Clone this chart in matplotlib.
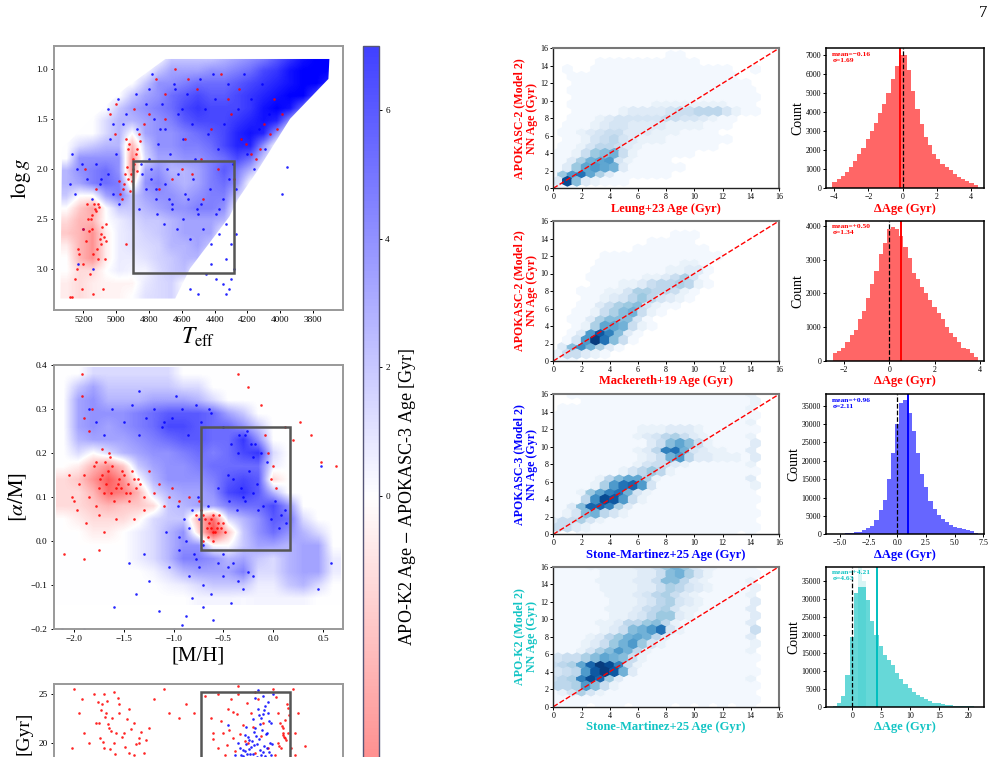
import numpy as np
from matplotlib import pyplot as plt
from matplotlib.cm import ScalarMappable
from matplotlib.colors import Normalize
from matplotlib.patches import Polygon, Rectangle

plt.rcParams['font.family'] = ['Liberation Serif', 'DejaVu Serif']
plt.rcParams['mathtext.fontset'] = 'stix'

N = 0
W, H = 998, 757

# Kiel diagram: mean age offset per cell, 0 where nothing is there
teff_cols = [5300, 5220, 5140, 5060, 4980, 4900, 4820, 4740, 4660, 4580, 4500,
             4420, 4340, 4260, 4180, 4100, 4020, 3940, 3860, 3780, 3700]
logg_rows = [0.9, 1.025, 1.15, 1.275, 1.4, 1.525, 1.65, 1.775, 1.9, 2.025, 2.15,
             2.275, 2.4, 2.525, 2.65, 2.775, 2.9, 3.025, 3.15, 3.275]
kiel_cells = [
    [N, N, N, N, N, N, N, N, 1.5, 1.5, 1.5, 1.5, 2, 2.5, 3, 3.5, 4.5, 5.5, 6.5, 7, 7],
    [N, N, N, N, N, N, N, 1.5, 2.5, 2.5, 2.5, 3, 3, 3.5, 4, 5, 5.5, 6.5, 7, 7, 7],
    [N, N, N, N, N, N, 1.5, 3, 3, 3.5, 4, 4, 4, 4.5, 5, 5.5, 6, 6.5, 7, 7, 6],
    [N, N, N, N, N, 1.5, 2.5, 3, 4, 4.5, 5, 4.5, 4.5, 5, 5.5, 6, 6.5, 7, 7, 5, N],
    [N, N, N, N, 1.5, 2.5, 3, 3.5, 4, 5, 5.5, 5, 5, 5, 5.5, 6.5, 7, 6.5, 4, N, N],
    [N, N, N, 1, 2, 2, 2.5, 3, 3.5, 4.5, 5, 5, 5, 5.5, 6, 6.5, 6, 3, N, N, N],
    [N, N, N, 1, 2, 0, 2.5, 3, 3, 3.5, 4, 4.5, 5, 6, 6.5, 6, 3, N, N, N, N],
    [N, 1, 1.5, 2, 2, -2, 1.5, 3, 3, 3.5, 3.5, 4, 5, 6, 6, 3, N, N, N, N, N],
    [N, 3, 3, 3, 3, -3, 1, 2.5, 2.5, 3, 3, 3.5, 4, 5, 4, 1.5, N, N, N, N, N],
    [2, 3, 3.5, 4, 3, -3, 2.5, 3, 2, 2, 2.5, 3.5, 4.5, 3.5, 2, N, N, N, N, N, N],
    [2, 2.5, 3.5, 4, 3.5, -1, 3, 3.5, 2.5, 2, 2.5, 3.5, 4, 3, N, N, N, N, N, N, N],
    [1.5, 0, 0, 2.5, 3.5, 1.5, 2.5, 3, 3, 2.5, 3, 3.5, 3.5, 1.5, N, N, N, N, N, N, N],
    [0, -1.5, -2.5, 0, 1.5, 1.5, 2, 2.5, 3, 3, 3.5, 3.5, 3, N, N, N, N, N, N, N, N],
    [-1, -2, -2, 0, 0.5, 1, 1.5, 1.5, 2, 2.5, 2.5, 2.5, 2, N, N, N, N, N, N, N, N],
    [-1.5, -2, -3, -0.5, 0.5, 0.8, 1.2, 1.5, 2, 2.5, 2.5, 2.5, N, N, N, N, N, N, N, N, N],
    [-0.5, -2, -3, -0.5, 0.5, 0.8, 1, 1.2, 2, 2, 2.5, 1.5, N, N, N, N, N, N, N, N, N],
    [0, -2, -3, -0.5, 0.5, 0.5, 0.8, 1.2, 1.5, 2, 2, N, N, N, N, N, N, N, N, N, N],
    [0, -1, -1, 0, 0.5, 0.3, 0.3, 1, 1.5, 1.8, N, N, N, N, N, N, N, N, N, N, N],
    [-0.5, -1, -0.5, -0.3, -0.3, -0.3, 0.6, 1, 1.2, N, N, N, N, N, N, N, N, N, N, N, N],
    [-0.5, -1, -0.5, -0.3, -0.3, 0, 0.8, 1, 1.2, N, N, N, N, N, N, N, N, N, N, N, N],
]
kiel_edge_teff = [4700, 4950, 5150, 5330, 5340, 4640, 4550, 4310, 4256, 4143, 3940, 3706, 3700]
kiel_edge_logg = [0.9, 1.2, 1.5, 1.8, 3.3, 3.3, 3.0, 2.48, 2.3, 2.03, 1.5, 1.1, 0.9]

kiel_red_teff = [4900, 4930, 4950, 4880, 4920, 4960, 4890, 4940, 4860, 4975, 4910, 4870, 5130, 5150, 5100, 5170,
                 5090, 5140, 5200, 5230, 5110, 5180, 5060, 5120, 5160, 5250, 5080, 5140, 5210, 5270, 5110, 5060,
                 4700, 4560, 4420, 4320, 4210, 4100, 4060, 3990, 4510, 4640, 4760, 4280, 4180, 4600, 4470, 4800,
                 5000, 4830, 4890, 4700, 4580, 4360, 4250, 4150, 4020, 4040, 5280, 5240, 5190, 5040, 5005, 4940,
                 4895, 4925, 4945, 4905, 4935, 4875, 4855, 4915, 4965, 4985, 5105, 5125, 5145, 5085, 5075, 5165,
                 5095, 5115, 5185, 5205, 5135, 5155, 5070, 5225, 4740, 4660, 4540, 4480, 4380, 4300, 4240, 4120]
kiel_red_logg = [2.0, 2.1, 2.15, 1.85, 1.75, 2.2, 1.95, 1.7, 1.65, 2.25, 2.05, 1.8, 2.4, 2.6, 2.7, 2.5,
                 2.65, 2.85, 2.95, 2.8, 2.9, 2.35, 2.55, 2.2, 3.05, 3.1, 3.2, 3.25, 3.2, 3.28, 2.35, 2.72,
                 1.5, 1.1, 1.6, 1.3, 1.75, 1.55, 1.65, 1.45, 1.2, 1.0, 1.1, 2.1, 1.85, 2.0, 2.3, 1.45,
                 1.35, 1.55, 1.4, 1.25, 1.7, 1.05, 1.2, 1.9, 1.6, 1.3, 3.28, 3.0, 2.0, 1.45, 1.65, 2.75,
                 1.9, 1.8, 2.05, 2.12, 1.98, 2.02, 1.72, 2.22, 2.3, 2.12, 2.38, 2.42, 2.46, 2.58, 2.68, 2.62,
                 2.75, 2.8, 2.72, 2.6, 2.35, 2.5, 2.9, 2.85, 2.2, 2.1, 2.05, 1.9, 2.0, 1.45, 1.7, 1.8]
kiel_blue_teff = [5270, 5240, 5210, 5180, 5280, 5250, 5150, 5120, 5230, 5090, 5040, 4990, 4960, 4880, 4820, 4780,
                  4730, 4690, 4640, 4600, 4510, 4370, 4300, 4330, 4270, 4450, 4390, 4350, 4310, 4280, 4420, 4500,
                  4550, 3960, 3990, 4330, 4300, 5050, 4940, 4870, 4790, 5020, 4860, 4760, 4660, 4560, 5200, 5140,
                  4800, 4770, 4745, 4720, 4700, 4670, 4650, 4620, 4590, 4570, 4540, 4520, 4490, 4460, 4440, 4410,
                  4400, 4380, 4340, 4320, 4290, 4260, 4240, 4220, 4200, 4180, 4160, 4130, 4110, 4090, 4070, 4840,
                  4820, 4790, 4760, 4700, 4660, 4620, 4580, 4530, 4480, 4430, 4390, 4350, 4310, 4270, 4850, 4800,
                  4750, 4710, 4680, 4630, 4590, 4550, 4500, 4470, 4420, 4370, 4330, 5000, 5050, 5100, 4980, 5020]
kiel_blue_logg = [1.85, 2.0, 1.95, 2.1, 2.15, 2.25, 2.3, 1.95, 2.95, 2.1, 1.7, 1.3, 1.55, 1.25, 1.35, 1.05,
                  1.6, 2.0, 1.2, 1.4, 2.4, 2.65, 2.75, 2.9, 2.65, 3.05, 3.1, 3.15, 3.2, 3.0, 2.95, 3.25,
                  3.2, 1.98, 2.25, 3.25, 3.1, 1.4, 1.45, 1.6, 2.1, 2.25, 2.4, 2.2, 2.35, 2.3, 2.6, 3.0,
                  1.2, 1.5, 1.75, 1.35, 1.6, 1.85, 1.15, 1.45, 1.7, 1.25, 1.55, 1.9, 1.1, 1.4, 1.65, 1.05,
                  1.3, 1.8, 1.55, 1.15, 1.95, 1.4, 1.7, 1.05, 1.85, 1.3, 2.0, 1.6, 1.15, 1.8, 1.45, 2.05,
                  2.2, 2.0, 2.3, 2.15, 2.4, 2.05, 2.25, 2.1, 2.35, 2.2, 2.45, 2.3, 2.1, 2.2, 1.95, 1.9,
                  2.45, 2.55, 2.3, 2.6, 2.5, 2.7, 2.45, 2.6, 2.75, 2.4, 2.55, 1.85, 2.05, 2.15, 2.35, 1.55]

# Chemical plane: mean age offset per cell
mh_cols = [-2.1, -1.95, -1.8, -1.65, -1.5, -1.35, -1.2, -1.05, -0.9, -0.75,
           -0.6, -0.45, -0.3, -0.15, 0, 0.15, 0.3, 0.45, 0.6]
am_rows = [0.38, 0.35, 0.32, 0.29, 0.26, 0.23, 0.20, 0.17, 0.14, 0.11, 0.08,
           0.05, 0.02, -0.01, -0.04, -0.07, -0.10, -0.13]
chem_cells = [
    [N, N, 1, 1, 1, 1, 1, 1, N, N, N, N, N, N, N, N, N, N, N],
    [N, 1.5, 2.5, 1.5, 1.5, 1.5, 1.5, 1.5, 1, 1, N, N, N, N, N, N, N, N, N],
    [N, 2.5, 3, 2, 2, 2, 2.5, 2.5, 2.5, 2, 1, N, N, N, N, N, N, N, N],
    [N, 2.5, 3, 3, 3, 3.5, 4, 4.5, 4.5, 4.5, 4, 2.5, 1.5, N, N, N, N, N, N],
    [N, 2.5, 3, 2.5, 3, 3.5, 4, 5, 5, 4.5, 4, 4, 3, 1.5, N, N, N, N, N],
    [N, 2, 2.5, 2.5, 2.5, 3, 3.5, 4, 4.5, 4.5, 4, 4, 5.5, 3, N, N, N, N, N],
    [N, 1, 0, 1, 2, 2.5, 3, 3, 3.5, 4, 3.5, 4, 5, 5.5, 1, N, N, N, N],
    [N, -0.5, -2, -3, -1.5, 1.5, 2.5, 3, 3, 3.5, 4, 4, 4, 4, 0.5, N, N, N, N],
    [-1, -1.5, -3, -4.5, -3, 0, 2, 3, 3, 3, 3.5, 4.5, 5, 4.5, -1, N, N, N, N],
    [-1, -1, -2, -4, -3.5, -2, 1, 2, 2.5, 2.5, 3, 5, 5.5, 4.5, 2, N, N, N, N],
    [-1, -1, -1.5, -2, -1.5, -1.5, -1, 1.5, 2, 2.5, 2.5, 3.5, 4, 4, 5, 3, N, N, N],
    [N, -0.5, -1, -1, -1, -0.3, 1, 1.5, 1.5, -2, -4, 1, 2, 3, 4.5, 4, 1, N, N],
    [N, N, -0.5, -0.5, N, 0.5, 1, 2, 3, -1, -5, -1.5, 1.5, 3, 4, 3, 2, 1, N],
    [N, N, N, N, 0, 0.5, 1, 2, 3, 3, 0, 0, 1.5, 2.5, 2.5, 2, 2.5, 2.5, N],
    [N, N, N, N, N, 0.5, 1, 2, 3.5, 3.5, 3, 2, 2.5, 1.5, 1, 2, 2.5, 2.5, 0.5],
    [N, N, N, N, N, N, 0.3, 1, 2, 2.5, 2.5, 2.5, 3.5, 1, 1, 2, 2.5, 2.5, 0.5],
    [N, N, N, N, N, N, N, 0.3, 0.5, 1, 1.5, 1.5, 1.5, 0.5, 0.5, 1.5, 2, 1, N],
    [N, N, N, N, N, N, N, N, N, 0.3, 0.3, 0.3, 0.2, 0.3, 0.3, 0.3, 0.3, N, N],
]
chem_red_mh = [-1.72, -1.68, -1.62, -1.55, -1.48, -1.42, -1.75, -1.6, -1.5, -1.38, -1.3, -1.25, -1.78, -1.65, -1.7, -1.45,
               -1.56, -1.2, -1.1, -1.02, -0.95, -1.85, -2.0, -1.95, -1.9, -1.75, -1.7, -1.58, -1.4, -1.3, -0.68, -0.62,
               -0.58, -0.55, -0.65, -0.6, -0.52, -0.72, -0.75, -0.7, -0.48, -0.6, -0.05, -0.02, 0.0, 0.03, -0.08, 0.27,
               0.38, 0.48, 0.63, -1.82, -1.92, -0.25, -0.35, -0.12, 0.12, 0.2, -2.1, -1.9, -1.75, -1.85, -1.9, -1.92,
               -1.74, -1.66, -1.58, -1.52, -1.46, -1.4, -1.34, -1.69, -1.63, -1.53, -1.44, -1.36, -2.05, -2.02, -1.97, -1.88,
               -1.8, -1.72, -1.64, -1.78, -0.64, -0.6, -0.56, -0.66, -0.7, -0.62, -0.5, -0.54, -0.78, -0.85, -1.15, -1.05]
chem_red_am = [0.15, 0.13, 0.17, 0.14, 0.11, 0.16, 0.12, 0.09, 0.15, 0.12, 0.1, 0.16, 0.18, 0.2, 0.11, 0.09,
               0.13, 0.11, 0.08, 0.12, 0.09, 0.1, 0.09, 0.13, 0.15, 0.06, 0.02, 0.05, 0.05, 0.07, 0.05, 0.03,
               0.02, 0.04, 0.01, 0.06, 0.03, 0.07, 0.09, 0.0, 0.02, 0.0, 0.2, 0.14, 0.17, 0.12, 0.24, 0.27,
               0.24, 0.18, 0.17, 0.3, 0.33, 0.35, 0.38, 0.31, 0.26, 0.23, -0.03, -0.04, -0.02, 0.25, 0.28, 0.38,
               0.14, 0.16, 0.12, 0.16, 0.13, 0.14, 0.13, 0.18, 0.11, 0.12, 0.11, 0.14, 0.15, 0.1, 0.07, 0.04,
               0.17, 0.21, 0.19, 0.08, 0.04, 0.02, 0.03, 0.03, 0.06, 0.05, 0.04, 0.06, 0.06, 0.1, 0.13, 0.1]
chem_blue_mh = [-1.05, -0.95, -0.85, -0.78, -0.7, -0.62, -0.55, -0.45, -0.35, -0.25, -0.3, -0.42, -0.5, -0.6, -0.7, -0.82,
                -0.88, -0.92, -1.0, -1.15, -1.25, -1.3, -1.38, -1.45, -1.6, -2.12, -1.9, -0.75, -0.65, -0.55, -0.45, -0.35,
                -0.28, -0.22, -0.2, -0.15, -0.3, -0.95, -0.85, -0.98, -0.78, -0.62, -1.1, -1.35, -0.2, 0.48, 0.58, 0.45,
                -1.85, -1.78, -1.7, -1.62, -1.5, -1.42, -1.35, -1.28, -1.2, -1.12, -1.02, -0.92, -0.86, -0.72, -0.64, -0.5,
                -0.42, -0.34, -0.26, -0.18, -0.12, -0.06, 0.02, 0.08, 0.13, -0.4, -0.32, -0.24, -0.16, -0.44, -0.36, -0.28,
                -0.2, -0.1, -0.02, 0.06, 0.12, -0.88, -0.8, -0.74, -0.7, -0.82, -0.76, -0.9, -0.96, -1.08, -0.5, -0.4]
chem_blue_am = [-0.06, -0.02, -0.08, -0.04, -0.1, -0.12, -0.05, -0.06, -0.09, -0.07, -0.11, -0.14, -0.03, -0.18, -0.15, -0.13,
                -0.17, -0.19, -0.2, -0.16, -0.09, -0.03, -0.12, -0.05, -0.15, -0.2, -0.2, 0.05, 0.08, 0.12, 0.15, 0.2,
                0.24, 0.22, 0.19, 0.07, 0.1, 0.01, 0.03, 0.33, 0.31, 0.29, 0.27, 0.34, -0.08, 0.17, -0.05, -0.11,
                0.3, 0.27, 0.24, 0.3, 0.27, 0.31, 0.24, 0.28, 0.3, 0.26, 0.28, 0.3, 0.24, 0.27, 0.3, 0.26,
                0.22, 0.24, 0.25, 0.22, 0.2, 0.18, 0.09, 0.06, 0.04, 0.14, 0.12, 0.16, 0.13, 0.09, 0.07, 0.09,
                0.11, 0.08, 0.05, 0.03, 0.07, 0.0, -0.03, -0.06, -0.01, 0.07, 0.1, 0.05, 0.08, 0.02, -0.08, -0.05]

# Third panel, age against metallicity
age_red_mh = [-2.0, -1.95, -1.9, -1.85, -2.02, -1.92, -1.78, -1.7, -1.72, -1.68, -1.65, -1.6, -1.74, -1.62, -1.7, -1.55,
              -1.5, -1.45, -1.4, -1.35, -1.3, -1.25, -1.6, -1.55, -1.45, -1.35, -1.2, -1.1, -1.05, -0.95, -0.88, -0.8,
              -1.8, -1.75, -1.67, -1.58, -1.4, -0.68, -0.62, -0.55, -0.5, -0.42, -0.35, -0.45, -0.4, -0.3, -0.22, -0.18,
              -0.15, -0.1, -0.05, 0.0, 0.05, 0.1, 0.14, 0.12, 0.08, 0.1, 0.05, 0.02, 0.2, 0.25, 0.22, 0.18, -0.25,
              -0.55, -0.48, -0.38, -0.28, -0.18, 0.15, 0.07, 0.13, 0.1, 0.16, -0.6, -0.35, 0.22, 0.32,
              -1.76, -1.73, -1.69, -1.66, -1.63, -1.71, -1.64, -1.59, -1.52, -1.47, -1.43, -1.38, -1.33, -1.28, -1.56, -1.49,
              -0.6, -0.52, -0.46, -0.4, -0.33, -0.26, -0.2, -0.12, -0.36, -0.44, 0.11, 0.09, 0.06, 0.12, 0.15, 0.03]
age_red_age = [25.5, 23, 21, 20, 19.5, 24.5, 22, 25, 24, 23, 21.5, 20, 20.5, 22.5, 19.5, 23, 21, 19, 22, 20.5, 19, 21.5, 25.2, 24, 23.5, 20, 24.5, 25.5, 23, 22.5, 24, 23,
               25, 22, 24.3, 21, 18.8, 24.8, 22.5, 25, 21, 24.5, 25, 23.5, 20.5, 21.8, 23, 25.2, 24.5, 22, 19.5, 25.5, 23, 21.5, 24, 20.5, 19.5, 21, 20, 18.8, 25.5, 23, 21, 19.5, 20,
               19.5, 18.8, 19.2, 20.2, 19, 21, 22, 20.3, 20.8, 22.8, 21, 25.8, 18.8, 19.7,
               24.2, 23.4, 22.6, 21.9, 21.2, 20.1, 19.4, 18.9, 20.6, 22.4, 21.4, 19.9, 21.1, 20.3, 24.6, 19.6,
               20.4, 22.2, 19.8, 23.1, 20.9, 24.1, 21.6, 20.7, 22.9, 21.3, 20.6, 21.7, 19.7, 22.3, 23.6, 24.7]
age_blue_mh = [-0.15, -0.1, -0.08, -0.05, -0.12, -0.02, -0.18, -0.06, -0.14, -0.03, -0.22, -0.28, -0.2, -0.12, -0.25, -0.3,
               -0.06, -0.16, -0.1, -0.02, -0.08, -0.2, -0.35, -0.28, -0.15, -0.05, -0.1, -0.18, 0.0, -0.45,
               -0.24, -0.19, -0.13, -0.09, -0.04, -0.26, -0.21, -0.17, -0.11, -0.07, -0.32, -0.27, -0.23, -0.16, -0.13, -0.38,
               -0.3, -0.24, -0.19, -0.14, -0.09, -0.04, -0.01, -0.33, -0.27]
age_blue_age = [25.4, 24.8, 23.8, 23, 22.5, 22, 21.5, 21, 20.4, 20, 19.6, 19.2, 18.9, 18.8, 20.6, 18.7,
                19.5, 19.9, 19.1, 18.8, 18.7, 22.4, 20, 20.8, 23.5, 24.2, 22.9, 24.6, 25, 21.8,
                19.4, 19.8, 19.3, 19.7, 19.1, 18.9, 20.2, 20.7, 21.3, 20.9, 18.8, 19.9, 18.9, 18.6, 21.9, 18.8,
                19.3, 20.3, 21.1, 22.8, 23.4, 22.2, 19.9, 19.5, 21.6]

# Box drawn on the two left panels plus the third one
kiel_box = [4900, 4280, 1.92, 3.04]
chem_box = [-0.72, 0.17, -0.02, 0.26]
age_box = [-0.72, 0.17, -2.0, 25.2]

# Hexagon intensity, top row first (y = 16, 15.2, ... 0), x step 2/3, odd rows shifted
leung_hex = [
    [0],
    [0, 0, 0, 0, 0, 0, 0, 0, 0, 0, 0, 0, 1, 1],
    [0, 0, 0, 0, 0, 1, 1, 1, 1, 1, 1, 1, 1, 1, 1, 1],
    [0, 1, 0, 0, 1, 1, 1, 1, 1, 1, 1, 1, 1, 1, 1, 1, 1, 1, 1, 0, 0, 1],
    [0, 0, 1, 1, 1, 1, 1, 1, 1, 1, 1, 1, 1, 1, 1, 1, 1, 1, 1, 1],
    [0, 0, 1, 1, 1, 1, 1, 1, 1, 1, 1, 1, 1, 1, 1, 1, 1, 1, 1, 1, 1],
    [0, 0, 1, 1, 1, 1, 1, 1, 1, 1, 1, 1, 1, 1, 1, 1, 1, 1, 1, 1, 1, 1],
    [0, 0, 1, 1, 1, 1, 1, 1, 1, 1, 1, 1, 1, 1, 1, 1, 1, 1, 1, 1, 1, 1],
    [0, 0, 1, 1, 1, 1, 1, 1, 1, 1, 1, 2, 2, 2, 2, 2, 2, 2, 2, 1, 1, 1],
    [0, 0, 1, 1, 1, 1, 1, 2, 3, 3, 3, 3, 4, 5, 5, 6, 6, 6, 4, 2, 1, 1],
    [0, 0, 1, 1, 1, 2, 3, 4, 4, 4, 4, 4, 5, 5, 4, 4, 3, 2, 1, 1],
    [0, 1, 1, 1, 2, 3, 4, 4, 3, 3, 3, 3, 2, 2, 2, 2, 1, 1, 1],
    [0, 1, 1, 2, 3, 4, 5, 5, 3, 3, 3, 2, 2, 2, 1, 1, 1, 1],
    [0, 1, 1, 2, 4, 5, 6, 4, 3, 2, 2, 2, 1, 1, 1, 1, 1, 1, 1],
    [0, 1, 1, 2, 4, 6, 6, 5, 3, 2, 1, 1, 1, 1, 1, 1, 1, 1],
    [1, 1, 2, 5, 8, 9, 10, 5, 2, 1, 1, 1, 1, 1, 1],
    [1, 1, 3, 7, 10, 11, 12, 4, 2, 1, 1, 1, 1],
    [1, 3, 8, 11, 12, 11, 10, 3, 1, 1, 1, 1, 1, 1],
    [1, 8, 12, 15, 11, 7, 3, 1, 1, 1, 1, 1, 1],
    [3, 18, 9, 3, 2, 1, 1, 1],
    [1, 1, 1],
]
mackereth_hex = [
    [0],
    [0],
    [0, 0, 0, 0, 0, 0, 0, 0, 0, 0, 0, 0, 0, 1, 1, 1],
    [0, 0, 0, 0, 0, 0, 0, 0, 0, 0, 1, 1, 1, 1, 1],
    [0, 0, 0, 0, 0, 0, 0, 0, 0, 1, 1, 1, 1, 1, 1, 1, 1],
    [0, 0, 0, 0, 0, 1, 1, 1, 1, 1, 1, 1, 1, 1, 1, 1, 1, 1],
    [0, 0, 0, 0, 0, 1, 1, 1, 1, 1, 1, 1, 1, 1, 2, 2, 1],
    [0, 0, 0, 0, 1, 1, 1, 1, 1, 1, 1, 1, 2, 2, 3, 3, 1],
    [0, 0, 0, 0, 1, 1, 1, 1, 1, 1, 2, 2, 3, 5, 7, 4, 1],
    [0, 0, 0, 0, 1, 1, 1, 2, 2, 3, 5, 6, 6, 7, 6, 2, 1],
    [0, 0, 0, 1, 1, 1, 2, 2, 4, 7, 7, 6, 6, 5, 2, 1],
    [0, 0, 0, 1, 1, 2, 3, 4, 6, 8, 6, 4, 3, 2, 1],
    [0, 0, 0, 1, 1, 3, 5, 7, 8, 9, 4, 2, 1, 1],
    [0, 0, 1, 1, 2, 5, 7, 9, 10, 5, 2, 1],
    [0, 0, 1, 1, 3, 7, 9, 9, 9, 4, 1],
    [0, 0, 1, 2, 7, 11, 11, 10, 5, 2, 1],
    [0, 0, 1, 3, 12, 17, 14, 9, 3, 1],
    [0, 1, 4, 12, 19, 15, 9, 5, 1],
    [0, 3, 9, 13, 10, 7, 3, 1],
    [2, 5, 5, 3, 2, 1],
    [1, 1, 1],
]
stone_k3_hex = [
    [0, 0, 1, 1, 1, 1, 1, 1, 1, 1, 1, 1, 1, 1, 1, 1, 1, 1, 1, 1, 1, 2],
    [0, 0, 0, 1, 1, 1, 1, 1, 1, 1, 1, 1, 1, 1, 1, 1, 1, 1, 1, 1, 1, 2],
    [0, 1, 1, 1, 1, 1, 1, 1, 1, 1, 1, 1, 1, 1, 1, 1, 1, 1, 1, 1, 1, 2],
    [1, 1, 1, 1, 1, 1, 1, 1, 1, 1, 1, 1, 1, 1, 1, 1, 1, 1, 1, 1, 1, 1],
    [1, 1, 1, 1, 1, 1, 1, 1, 1, 1, 1, 1, 1, 1, 1, 1, 1, 1, 1, 1, 1, 2],
    [1, 1, 1, 1, 1, 1, 1, 1, 1, 2, 2, 2, 3, 3, 3, 2, 1, 1, 1, 1, 1, 1],
    [1, 1, 1, 1, 1, 1, 1, 1, 1, 2, 3, 4, 6, 7, 5, 3, 2, 1, 1, 1, 1, 2],
    [1, 1, 1, 1, 1, 1, 1, 1, 1, 1, 3, 5, 9, 11, 9, 5, 2, 1, 1, 1, 1, 3],
    [1, 1, 1, 1, 1, 1, 1, 1, 1, 2, 3, 6, 14, 15, 10, 4, 3, 2, 2, 1, 1, 3],
    [1, 1, 1, 1, 1, 1, 1, 1, 1, 2, 3, 5, 10, 12, 6, 3, 3, 2, 2, 2, 1, 3],
    [1, 1, 1, 1, 1, 1, 1, 1, 1, 2, 4, 5, 5, 3, 2, 1, 1, 1, 1, 1, 1, 2],
    [1, 1, 1, 1, 1, 1, 1, 2, 4, 6, 8, 6, 2, 1, 1, 1, 1, 1, 1, 1, 1, 1],
    [1, 1, 1, 1, 1, 2, 6, 9, 11, 11, 7, 2, 1, 1, 1, 1, 1, 1, 1, 1, 1, 3],
    [1, 1, 1, 1, 2, 7, 12, 15, 16, 12, 4, 1, 1, 1, 1, 1, 1, 1, 1, 1, 1, 2],
    [1, 1, 1, 2, 8, 11, 14, 15, 10, 4, 2, 1, 1, 1, 1, 1, 1, 1, 1, 1, 1, 1],
    [1, 1, 1, 6, 13, 18, 17, 12, 5, 2, 1, 1, 1, 1, 1, 1, 1, 1, 1, 1, 1, 1],
    [1, 1, 3, 9, 16, 16, 14, 7, 3, 1, 1, 1, 1, 1, 1, 1, 1, 1, 1, 1, 1, 1],
    [1, 2, 4, 9, 10, 6, 4, 2, 1, 1, 1, 1, 1, 1, 1, 1, 1, 1, 1, 1, 1, 1],
    [3, 5, 5, 7, 4, 2, 1, 1, 1, 1, 1, 1, 1, 1, 1, 1, 1, 1, 1, 1, 1, 1],
    [5, 5, 3, 2, 1, 1, 1, 1, 1, 1, 1, 1, 1, 1, 1, 1, 1, 1, 1, 1, 1, 1],
    [0, 0, 0, 1, 1, 1, 1, 1, 1, 1, 1, 1, 1, 1, 1, 1, 1, 1, 1, 1, 0, 1],
]
stone_k2_hex = [
    [1, 1, 1, 1, 2, 2, 2, 2, 2, 3, 3, 5, 8, 10, 8, 4, 2, 2, 1, 1, 1, 1],
    [1, 1, 1, 1, 1, 2, 2, 2, 2, 3, 3, 5, 9, 10, 7, 4, 2, 1, 1, 1, 1, 1],
    [1, 1, 1, 1, 1, 2, 2, 2, 2, 3, 3, 5, 9, 9, 6, 3, 2, 1, 1, 1, 1, 2],
    [1, 1, 1, 1, 1, 2, 2, 2, 2, 3, 3, 5, 7, 6, 4, 3, 2, 1, 1, 1, 1, 2],
    [1, 1, 1, 1, 1, 1, 2, 2, 2, 3, 4, 6, 7, 5, 3, 2, 1, 1, 1, 1, 1, 2],
    [1, 1, 1, 1, 1, 1, 2, 2, 2, 3, 4, 6, 7, 4, 3, 2, 1, 1, 1, 1, 1, 3],
    [1, 1, 1, 1, 1, 1, 2, 2, 2, 3, 5, 6, 7, 4, 2, 2, 1, 1, 1, 1, 1, 3],
    [1, 1, 1, 1, 1, 1, 2, 2, 3, 4, 6, 8, 8, 3, 2, 1, 1, 1, 1, 1, 1, 3],
    [1, 1, 1, 1, 1, 2, 2, 3, 6, 6, 8, 9, 6, 2, 1, 1, 1, 1, 1, 1, 1, 3],
    [1, 1, 1, 1, 1, 2, 3, 5, 9, 10, 12, 15, 4, 2, 1, 1, 1, 1, 1, 1, 1, 5],
    [1, 1, 1, 1, 2, 3, 6, 8, 10, 11, 10, 6, 3, 1, 1, 1, 1, 1, 1, 1, 1, 3],
    [1, 1, 1, 2, 3, 5, 8, 10, 12, 8, 4, 2, 1, 1, 1, 1, 1, 1, 1, 1, 1, 2],
    [1, 1, 1, 2, 4, 7, 9, 12, 10, 6, 2, 1, 1, 1, 1, 1, 1, 1, 1, 1, 1, 2],
    [4, 5, 5, 7, 9, 11, 10, 9, 5, 2, 1, 1, 1, 1, 1, 1, 1, 1, 1, 1, 1, 1],
    [5, 6, 7, 11, 16, 19, 18, 14, 5, 2, 1, 1, 1, 1, 1, 1, 1, 1, 1, 1, 1, 1],
    [4, 5, 6, 12, 17, 19, 17, 10, 3, 1, 1, 1, 1, 1, 1, 1, 1, 1, 1, 1, 1, 1],
    [5, 6, 7, 14, 18, 16, 8, 3, 1, 1, 1, 1, 1, 1, 1, 1, 1, 1, 1, 1, 1, 2],
    [6, 6, 7, 12, 9, 5, 2, 1, 1, 1, 1, 1, 1, 1, 1, 1, 1, 1, 1, 1, 1, 1],
    [1, 2, 4, 7, 4, 2, 1, 1, 1, 1, 1, 1, 1, 1, 1, 1, 1, 1, 1, 1, 1, 1],
    [1, 1, 1, 1, 1, 1, 1, 1, 1, 1, 1, 1, 1, 1, 1, 1, 1, 1, 1, 1, 1, 1],
    [1, 1, 1, 1, 0, 1, 1, 1, 0, 1, 1, 1, 1, 0, 1, 0, 1, 0, 1, 0, 1, 1],
]

# Age offset histograms
leung_counts = [320, 480, 650, 880, 1140, 1420, 1790, 2110, 2620, 3020, 3430, 3970, 4460, 5040, 5750, 6450, 7000, 7000,
                6220, 5110, 4160, 3410, 2710, 2270, 1790, 1560, 1300, 1120, 950, 760, 580, 470, 370, 280, 200]
mackereth_counts = [230, 300, 390, 560, 770, 920, 1240, 1480, 1850, 2290, 2660, 3160, 3500, 3900, 3970, 3900, 3690, 3360,
                    3050, 2600, 2420, 2200, 2010, 1800, 1610, 1430, 1230, 1010, 820, 720, 570, 370, 340, 230, 130]
stone_k3_counts = [100, 150, 200, 300, 400, 550, 750, 1100, 1700, 2300, 3800, 6500, 9400, 15000, 22000, 30000, 35800, 36500,
                   33000, 28000, 22000, 16300, 12800, 9000, 7000, 5300, 4200, 3300, 2600, 2000, 1700, 1400, 1100, 800, 400]
stone_k2_counts = [300, 900, 3000, 8700, 19500, 31700, 33300, 33300, 29700, 24000, 20000, 16800, 14500, 13000, 11500, 9500, 7700, 6200,
                   5100, 4000, 3200, 2700, 2100, 1500, 1100, 900, 700, 500, 400, 300, 200, 150, 100, 80, 50]
stone_k2_faint = [0, 0, 0, 0, 0, 0, 39000, 35000]

hist_ranges = [(-4.1, 4.38), (-2.48, 3.9), (-5.63, 7.06), (-3.33, 21.67)]
hist_xlims = [(-4.47, 4.76), (-2.79, 4.18), (-6.24, 7.6), (-4.54, 22.76)]
hist_ylims = [7370, 4138, 38100, 39000]
hist_means = [-0.16, 0.50, 0.96, 4.21]
hist_sigmas = [1.69, 1.34, 2.11, 4.63]
hist_xticks = [[-4, -2, 0, 2, 4], [-2, 0, 2, 4], [-5, -2.5, 0, 2.5, 5, 7.5], [0, 5, 10, 15, 20]]
hist_yticks = [range(0, 7001, 1000), range(0, 4001, 1000), range(0, 35001, 5000), range(0, 35001, 5000)]

x_names = ['Leung+23 Age (Gyr)', 'Mackereth+19 Age (Gyr)', 'Stone-Martinez+25 Age (Gyr)', 'Stone-Martinez+25 Age (Gyr)']
y_names = ['APOKASC-2 (Model 2)\nNN Age (Gyr)', 'APOKASC-2 (Model 2)\nNN Age (Gyr)',
           'APOKASC-3 (Model 2)\nNN Age (Gyr)', 'APO-K2 (Model 2)\nNN Age (Gyr)']
colors = ['red', 'red', 'blue', '#12c4c4']
hist_colors = ['red', 'red', 'blue', 'c']
panel_tops = [48.3, 221, 394.3, 566.7]


def px_axes(fig, left, top, right, bottom):
    return fig.add_axes([left / W, 1 - bottom / H, (right - left) / W, (bottom - top) / H])


def style_left(ax):
    for s in ax.spines.values():
        s.set_color('#999999')
        s.set_linewidth(1.4)
    ax.tick_params(labelsize=6.7, length=2.5, width=0.7, pad=2)


def draw_cells(ax, xs, ys, cells, clip=None):
    dx = abs(xs[1] - xs[0]) / 2
    dy = abs(ys[1] - ys[0]) / 2
    # x runs with the column order, first table row sits at the top of the image
    x0 = xs[0] - np.sign(xs[1] - xs[0]) * dx
    x1 = xs[-1] + np.sign(xs[1] - xs[0]) * dx
    y0 = ys[0] - np.sign(ys[1] - ys[0]) * dy
    y1 = ys[-1] + np.sign(ys[1] - ys[0]) * dy
    im = ax.imshow(np.array(cells, dtype=float), extent=(x0, x1, y1, y0), origin='upper', aspect='auto',
                   cmap='bwr_r', vmin=-7, vmax=7, interpolation='bilinear', zorder=1)
    if clip is not None:
        ax.add_patch(clip)
        im.set_clip_path(clip)


def draw_dots(ax, xs, ys, color):
    ax.scatter(xs, ys, s=3.5, color=color, alpha=0.85, linewidths=0, zorder=2)


def draw_box(ax, box):
    x0, x1, y0, y1 = box
    ax.add_patch(Rectangle((x0, y0), x1 - x0, y1 - y0, fill=False, ec='#555555', lw=1.8, zorder=3))


def draw_hex(ax, table):
    xs, ys, cs = [], [], []
    nrows = len(table)
    for i, row in enumerate(table):
        level = nrows - 1 - i
        for j, v in enumerate(row):
            xc = j * 2 / 3 + (level % 2) / 3
            if v > 0 and xc <= 16:
                xs.append(xc)
                ys.append(level * 0.8)
                cs.append(v)
    ax.hexbin(xs, ys, C=cs, gridsize=(24, 10), extent=(0, 16, 0, 16), cmap='Blues', vmin=0.6, vmax=20,
              reduce_C_function=np.mean, mincnt=1)


def main():
    fig = plt.figure(figsize=(W / 100, H / 100), dpi=100)

    # Kiel diagram
    ax = px_axes(fig, 54, 46, 343, 310)
    outline = Polygon(np.column_stack([kiel_edge_teff, kiel_edge_logg]), closed=True, transform=ax.transData,
                      fc='none', ec='none')
    draw_cells(ax, teff_cols, logg_rows, kiel_cells, clip=outline)
    draw_dots(ax, kiel_blue_teff, kiel_blue_logg, 'blue')
    draw_dots(ax, kiel_red_teff, kiel_red_logg, 'red')
    draw_box(ax, kiel_box)
    ax.set_xlim(5379, 3617)
    ax.set_ylim(3.415, 0.77)
    ax.set_xticks(range(5200, 3700, -200))
    ax.set_yticks([1.0, 1.5, 2.0, 2.5, 3.0])
    ax.set_xlabel(r'$T_{\rm eff}$', fontsize=17, labelpad=1)
    ax.set_ylabel(r'$\log g$', fontsize=15, labelpad=2)
    style_left(ax)

    # Chemical plane
    ax = px_axes(fig, 54, 365, 343, 629)
    draw_cells(ax, mh_cols, am_rows, chem_cells)
    draw_dots(ax, chem_blue_mh, chem_blue_am, 'blue')
    draw_dots(ax, chem_red_mh, chem_red_am, 'red')
    draw_box(ax, chem_box)
    ax.set_xlim(-2.2, 0.7)
    ax.set_ylim(-0.2, 0.4)
    ax.set_xticks([-2.0, -1.5, -1.0, -0.5, 0.0, 0.5])
    ax.set_xlabel('[M/H]', fontsize=15, labelpad=2)
    ax.set_ylabel(r'$[\alpha/{\rm M}]$', fontsize=15, labelpad=1)
    style_left(ax)

    # Age panel runs off the page
    ax = px_axes(fig, 54, 684, 343, 948)
    draw_dots(ax, age_red_mh, age_red_age, 'red')
    draw_dots(ax, age_blue_mh, age_blue_age, 'blue')
    draw_box(ax, age_box)
    ax.set_xlim(-2.2, 0.7)
    ax.set_ylim(-0.9, 26)
    ax.set_yticks([20, 25])
    ax.set_xticks([])
    style_left(ax)
    fig.text(24 / W, 1 - 712 / H, '[Gyr]', rotation=90, fontsize=14, ha='center', va='top')

    # Shared colorbar
    cax = px_axes(fig, 363, 46, 379, 946)
    sm = ScalarMappable(norm=Normalize(-7, 7), cmap='bwr_r')
    cb = fig.colorbar(sm, cax=cax, alpha=0.75)
    cb.set_ticks([0, 2, 4, 6])
    cb.ax.tick_params(labelsize=6.7, length=2.5, width=0.7, pad=2)
    cb.outline.set_edgecolor('#555577')
    cb.outline.set_linewidth(1)
    fig.text(407 / W, 1 - 497 / H, r'APO-K2 Age $-$ APOKASC-3 Age [Gyr]', rotation=90, fontsize=13,
             ha='center', va='center')

    # Age comparison panels
    tables = [leung_hex, mackereth_hex, stone_k3_hex, stone_k2_hex]
    counts = [leung_counts, mackereth_counts, stone_k3_counts, stone_k2_counts]
    for i in range(4):
        top = panel_tops[i]
        ax = px_axes(fig, 553.3, top, 779, top + 140)
        draw_hex(ax, tables[i])
        ax.plot([0, 16], [0, 16], color='red', ls='--', lw=1)
        ax.set_xlim(0, 16)
        ax.set_ylim(0, 16)
        ax.set_xticks(range(0, 17, 2))
        ax.set_yticks(range(0, 17, 2))
        ax.tick_params(labelsize=5.8, length=2, width=0.7, pad=1.5)
        ax.set_xlabel(x_names[i], color=colors[i], fontsize=9, fontweight='bold', labelpad=1)
        ax.set_ylabel(y_names[i], color=colors[i], fontsize=8.6, fontweight='bold', labelpad=2, linespacing=1.05)
        for name, s in ax.spines.items():
            s.set_linewidth(1.5 if name in ('top', 'right') else 1)
            s.set_color('#777777' if name in ('top', 'right') else '#222222')

        ax = px_axes(fig, 826, top, 984.3, top + 140)
        edges = np.linspace(hist_ranges[i][0], hist_ranges[i][1], len(counts[i]) + 1)
        if i == 3:
            ax.bar(edges[:len(stone_k2_faint)], stone_k2_faint, width=edges[1] - edges[0], align='edge',
                   color=hist_colors[i], alpha=0.15, lw=0)
        ax.bar(edges[:-1], counts[i], width=np.diff(edges), align='edge', color=hist_colors[i], alpha=0.6, lw=0)
        ax.axvline(hist_means[i], color=hist_colors[i], lw=1.4)
        ax.axvline(0, color='black', ls='--', lw=0.9)
        ax.set_xlim(*hist_xlims[i])
        ax.set_ylim(0, hist_ylims[i])
        ax.set_xticks(hist_xticks[i])
        ax.set_yticks(list(hist_yticks[i]))
        ax.tick_params(labelsize=5.7, length=2, width=0.7, pad=1.5)
        ax.set_xlabel('\u0394Age (Gyr)', color=colors[i], fontsize=9, fontweight='bold', labelpad=1)
        ax.set_ylabel('Count', fontsize=10, labelpad=1)
        ax.text(0.04, 0.975, f'mean={hist_means[i]:+.2f}\n\u03c3={hist_sigmas[i]:.2f}'.replace('-', '\u2212'),
                transform=ax.transAxes, va='top', ha='left', fontsize=5.4, fontweight='bold', color=colors[i])
        for s in ax.spines.values():
            s.set_linewidth(1.1)

    fig.text(983 / W, 1 - 13 / H, '7', fontsize=12, ha='center', va='center')
    plt.savefig('out.png', dpi=100)


if __name__ == '__main__':
    main()
